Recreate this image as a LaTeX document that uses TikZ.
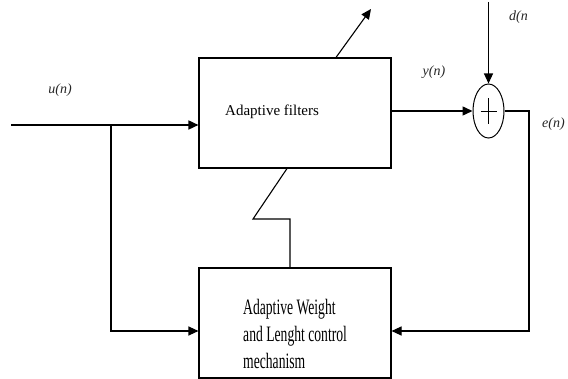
\documentclass[tikz,border=0pt]{standalone}
\usepackage{fontspec}
\setmainfont{Liberation Serif}
\newfontfamily\condfont[FakeStretch=0.62]{Liberation Serif}
\usetikzlibrary{arrows.meta,shapes.geometric}
\begin{document}
\begin{tikzpicture}[x=1pt,y=-1pt,
  blk/.style={draw,line width=1.1pt,minimum width=192pt,minimum height=110pt,inner sep=0pt},
  wire/.style={line width=1.1pt},
  arr/.style={wire,-{Triangle[length=10pt,width=9pt]}},
  lbl/.style={font=\fontsize{14}{16}\selectfont\itshape,text=black!85,inner sep=0pt},
  txt/.style={font=\fontsize{15}{17}\selectfont,inner sep=0pt},
  ctxt/.style={font=\fontsize{22}{27}\condfont,inner sep=0pt,align=left}]
\useasboundingbox (0,0) rectangle (568,379);
% blocks
\node[blk] (topbox) at (295,113) {};
\node[blk] (botbox) at (295,323) {};
\node[draw,ellipse,line width=1pt,minimum width=31pt,minimum height=54pt,inner sep=0pt,
  path picture={\draw[line width=0.9pt] ([xshift=-8pt]path picture bounding box.center) -- ([xshift=8pt]path picture bounding box.center)
  ([yshift=-13pt]path picture bounding box.center) -- ([yshift=13pt]path picture bounding box.center);}] (sum) at (488.5,111) {};
% texts
\node[txt,anchor=west] (ftext) at (225,112) {Adaptive filters};
\node[ctxt,anchor=west] (wtext) at (243,334) {Adaptive Weight\\and Lenght control\\mechanism};
\node[lbl] (ulbl) at (60,90) {u(n)};
\node[lbl] (ylbl) at (434,72) {y(n)};
\node[lbl,anchor=west] (dlbl) at (509,17) {d(n};
\node[lbl,anchor=west] (elbl) at (542,124) {e(n)};
% coordinates
\coordinate (in) at (11,125);
\coordinate (br) at (111,125);
\coordinate (bl) at (111,331);
\coordinate (ec) at (529,331);
\coordinate (dtop) at (488.5,2);
\coordinate (z1) at (290,219);
\coordinate (z2) at (253,219);
\coordinate (z3) at (287,168);
\coordinate (da) at (336,58);
\coordinate (db) at (371,9);
% connectors
\draw[arr,line width=1.6pt] (in) -- (in -| topbox.west);
\draw[arr] (br) -- (bl) -- (bl -| botbox.west);
\draw[arr,line width=1.5pt] (sum.west -| topbox.east) -- (sum.west);
\draw[arr] (dtop) -- (sum.north);
\draw[arr] (sum.east) -| (ec) -- (ec -| botbox.east);
\draw[wire] (z1 |- botbox.north) -- (z1) -- (z2) -- (z3 |- topbox.south);
\draw[arr] (da |- topbox.north) -- (db);
\end{tikzpicture}
\end{document}
